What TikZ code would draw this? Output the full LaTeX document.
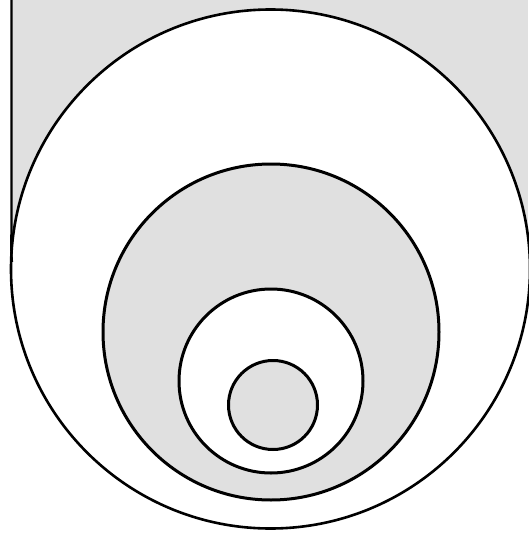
\documentclass[tikz,border=0pt]{standalone}
\begin{document}
\begin{tikzpicture}[x=1pt,y=-1pt,
  ring/.style={draw=black,line width=3pt},
  shade/.style={fill=gray!24},
  blank/.style={fill=white}]
\useasboundingbox (0,0) rectangle (528,536);
% gray background field
\fill[shade] (11,0) rectangle (528,270);
% outer circle
\coordinate (c0) at (270.5,269);
\filldraw[blank,ring,line width=2.6pt] (c0) circle (259.5);
% left edge of the field, running into the circle
\coordinate (top) at (11.5,0);
\coordinate (meet) at (11.5,222);
\draw[line width=2.2pt] (top) -- (meet) to[out=-90,in=95] (12,262);
% middle gray circle
\coordinate (c1) at (271,332);
\filldraw[shade,ring] (c1) circle (168);
% white circle
\coordinate (c2) at (271,381);
\filldraw[blank,ring] (c2) circle (92);
% small gray circle
\coordinate (c3) at (273,405);
\filldraw[shade,ring] (c3) circle (44.5);
\end{tikzpicture}
\end{document}
